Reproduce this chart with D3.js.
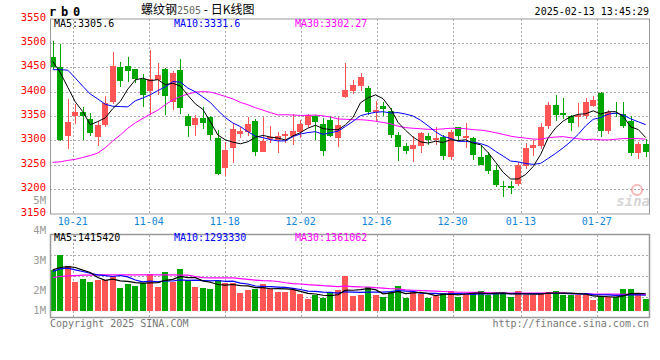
<!DOCTYPE html>
<html>
<head>
<meta charset="utf-8">
<script src="https://cdn.jsdelivr.net/npm/d3@7"></script>
<style>
body { margin: 0; background: #fff; }
svg { display: block; }
text { font-family: "DejaVu Sans Mono", monospace; }
</style>
</head>
<body>
<div id="chart"></div>
<script>
// trading days shown (rb2505 daily)
var dates = ["10-16","10-17","10-18","10-21","10-22","10-23","10-24","10-25","10-28","10-29","10-30","10-31",
  "11-01","11-04","11-05","11-06","11-07","11-08","11-11","11-12","11-13","11-14","11-15","11-18","11-19","11-20","11-21","11-22","11-25","11-26","11-27","11-28","11-29",
  "12-02","12-03","12-04","12-05","12-06","12-09","12-10","12-11","12-12","12-13","12-16","12-17","12-18","12-19","12-20","12-23","12-24","12-25","12-26","12-27","12-30","12-31",
  "01-02","01-03","01-06","01-07","01-08","01-09","01-10","01-13","01-14","01-15","01-16","01-17","01-20","01-21","01-22","01-23","01-24","01-27",
  "02-05","02-06","02-07","02-10","02-11","02-12","02-13"];

var openP = [3471,3450,3310,3349,3358,3344,3306,3332,3379,3450, 3453,3446,3426,3401,3424,3446,3379,3444,3350,3332,
  3345,3347,3304,3243,3285,3314,3317,3340,3277,3302, 3301,3310,3308,3317,3332,3351,3334,3342,3304,3390,
  3402,3411,3407,3359,3370,3360,3312,3289,3283,3289, 3309,3300,3307,3265,3327,3304,3305,3265,3270,3240,
  3207,3207,3211,3248,3285,3289,3330,3373,3357,3350, 3347,3351,3371,3398,3320,3357,3355,3340,3275,3293];
var highP = [3503,3497,3385,3375,3368,3357,3340,3391,3481,3460, 3471,3447,3436,3485,3459,3448,3442,3467,3355,3352,
  3368,3350,3321,3297,3335,3327,3347,3343,3347,3330, 3317,3320,3354,3342,3355,3353,3345,3347,3347,3459,
  3424,3439,3411,3381,3379,3366,3318,3295,3309,3318, 3315,3328,3311,3321,3328,3335,3306,3291,3277,3250,
  3216,3216,3255,3294,3301,3335,3379,3393,3386,3353, 3376,3386,3391,3400,3362,3379,3379,3349,3297,3302];
var lowP = [3447,3298,3283,3334,3300,3308,3289,3328,3375,3410, 3420,3417,3369,3352,3393,3353,3362,3355,3306,3308,
  3323,3301,3229,3226,3253,3304,3309,3268,3277,3294, 3274,3294,3291,3304,3328,3300,3267,3306,3287,3386,
  3396,3402,3352,3340,3350,3304,3257,3272,3255,3275, 3291,3291,3260,3260,3301,3284,3259,3250,3231,3204,
  3183,3190,3207,3241,3268,3282,3324,3340,3343,3320, 3328,3343,3368,3306,3313,3347,3325,3268,3261,3265];
var closeP = [3450,3300,3338,3358,3349,3316,3332,3376,3453,3422, 3443,3426,3394,3426,3434,3392,3439,3367,3330,3346,
  3336,3312,3231,3280,3323,3319,3333,3277,3299,3306, 3309,3313,3319,3333,3352,3338,3279,3309,3331,3403,
  3413,3430,3359,3362,3364,3312,3287,3279,3291,3316, 3300,3305,3267,3318,3308,3308,3271,3250,3238,3209,
  3204,3203,3250,3284,3291,3328,3373,3353,3353,3336, 3352,3379,3383,3320,3359,3354,3330,3275,3293,3277];

// volume in lots
var volume = [3390000,4630000,3720000,2420000,2670000,2420000,2560000,2560000,2920000,1930000,
  2230000,2070000,2290000,3060000,2010000,3220000,2420000,3500000,2560000,2010000,
  1930000,1850000,2560000,2290000,2290000,1490000,1740000,1850000,2230000,1850000,
  1570000,1570000,1710000,1400000,1020000,1290000,1070000,1570000,1740000,2890000,
  1270000,1320000,1980000,1320000,1160000,1570000,2070000,1070000,1570000,1380000,
  1070000,1270000,1520000,1650000,1160000,1400000,1570000,1650000,1320000,1460000,
  1460000,1160000,1650000,1320000,1320000,1490000,1570000,1650000,1320000,1320000,
  1320000,1320000,910000,1160000,1160000,1160000,1820000,1820000,1320000,990000];

// moving-average values before the window has enough days
var ma5Head = [3462,3439,3409,3379];
var ma10Head = [3445,3445,3444,3428,3411,3395,3385,3374,3370];
var ma30Head = [3255,3256,3259,3261,3265,3269,3274,3285,3299,3311,3325,3336,3345,3354,3362,
  3373,3383,3390,3395,3399,3400,3399,3395,3390,3385,3378,3373,3367,3362];
var vma5Head = [3390000,3580000,3660000,3580000];
var vma10Head = [3250000,3470000,3530000,3390000,3250000,3110000,2980000,2920000,2840000];
var vma30Head = [2750000,2840000,2890000,2920000,2950000,2960000,2970000,2980000,2980000,2980000,
  2980000,2980000,2980000,2970000,2970000,2970000,2970000,2960000,2950000,2840000,
  2750000,2730000,2730000,2730000,2720000,2660000,2600000,2550000,2500000];

var tickDates = ["10-21","11-04","11-18","12-02","12-16","12-30","01-13","01-27"];
var priceTicks = [3150,3200,3250,3300,3350,3400,3450,3500,3550];
var volLabels = [5,4,3,2,1];

var upColor = "#ff5555", downColor = "#00a600";
var left = 50, right = 649;
var mainTop = 18.5, mainBottom = 213.5;
var volTop = 234.5, volBottom = 317.5;

function movingAvg(vals, n, head) {
  return vals.map(function (v, i) {
    if (i < n - 1) return head[i];
    return d3.mean(vals.slice(i - n + 1, i + 1));
  });
}

var svg = d3.select("#chart").append("svg")
  .attr("width", 660)
  .attr("height", 360);

var x = d3.scaleBand().domain(dates).range([49, 649.5]).paddingInner(0.2).paddingOuter(0.1);
var xg = d3.scalePoint().domain(dates).range([50, 650]);
var y = d3.scaleLinear().domain([3150, 3550]).range([mainBottom, mainTop]);
var yv = d3.scaleLinear().domain([0, 6300000]).range([311, volTop]);
var yLab = d3.scaleLinear().domain([1, 5]).range([320, 200]);

function cx(d) { return Math.round(x(d) + x.bandwidth() / 2) + 0.5; }

// ---- grids
var grid = svg.append("g").attr("stroke", "#aaa").attr("stroke-dasharray", "2,2").attr("shape-rendering", "crispEdges");
grid.selectAll("line.h")
  .data(priceTicks.filter(function (v) { return v > 3150 && v < 3550; }))
  .enter().append("line")
  .attr("x1", left).attr("x2", right)
  .attr("y1", function (d) { return Math.round(y(d)) + 0.5; })
  .attr("y2", function (d) { return Math.round(y(d)) + 0.5; });
grid.selectAll("line.vm")
  .data(tickDates).enter().append("line")
  .attr("x1", function (d) { return Math.round(xg(d)) + 0.5; })
  .attr("x2", function (d) { return Math.round(xg(d)) + 0.5; })
  .attr("y1", mainTop).attr("y2", mainBottom);
grid.selectAll("line.vv")
  .data(tickDates).enter().append("line")
  .attr("x1", function (d) { return Math.round(xg(d)) + 0.5; })
  .attr("x2", function (d) { return Math.round(xg(d)) + 0.5; })
  .attr("y1", volTop).attr("y2", volBottom);
grid.selectAll("line.hv")
  .data(d3.range(1, 4)).enter().append("line")
  .attr("x1", left).attr("x2", right)
  .attr("y1", function (k) { return Math.round(volTop + k * (volBottom - volTop) / 4) + 0.5; })
  .attr("y2", function (k) { return Math.round(volTop + k * (volBottom - volTop) / 4) + 0.5; });

// ---- candles
var candles = svg.append("g").attr("shape-rendering", "crispEdges");
candles.selectAll("line")
  .data(dates).enter().append("line")
  .attr("x1", cx).attr("x2", cx)
  .attr("y1", function (d, i) { return y(highP[i]); })
  .attr("y2", function (d, i) { return y(lowP[i]); })
  .attr("stroke", function (d, i) { return closeP[i] >= openP[i] ? upColor : downColor; });
candles.selectAll("rect")
  .data(dates).enter().append("rect")
  .attr("x", function (d) { return cx(d) - 3.5; })
  .attr("width", 6)
  .attr("y", function (d, i) { return y(Math.max(openP[i], closeP[i])); })
  .attr("height", function (d, i) { return Math.max(1, Math.abs(y(openP[i]) - y(closeP[i]))); })
  .attr("fill", function (d, i) { return closeP[i] >= openP[i] ? upColor : downColor; });

// ---- price MAs
var maLine = d3.line()
  .x(function (d, i) { return x(dates[i]) + x.bandwidth() / 2; })
  .y(function (d) { return y(d); });
[[movingAvg(closeP, 30, ma30Head), "#ff00ff"], [movingAvg(closeP, 10, ma10Head), "#0000ff"], [movingAvg(closeP, 5, ma5Head), "#000"]]
  .forEach(function (m) {
    svg.append("path").datum(m[0])
      .attr("d", maLine)
      .attr("fill", "none")
      .attr("stroke", m[1])
      .attr("stroke-width", 1);
  });

// ---- volume bars
svg.append("g").attr("shape-rendering", "crispEdges")
  .selectAll("rect")
  .data(dates).enter().append("rect")
  .attr("x", function (d) { return cx(d) - 3.5; })
  .attr("width", 6)
  .attr("y", function (d, i) { return yv(volume[i]); })
  .attr("height", function (d, i) { return yv(0) - yv(volume[i]); })
  .attr("fill", function (d, i) { return closeP[i] >= openP[i] ? upColor : downColor; });

var vLine = d3.line()
  .x(function (d, i) { return x(dates[i]) + x.bandwidth() / 2; })
  .y(function (d) { return yv(d); });
[[movingAvg(volume, 30, vma30Head), "#ff00ff"], [movingAvg(volume, 10, vma10Head), "#0000ff"], [movingAvg(volume, 5, vma5Head), "#000"]]
  .forEach(function (m) {
    svg.append("path").datum(m[0])
      .attr("d", vLine)
      .attr("fill", "none")
      .attr("stroke", m[1])
      .attr("stroke-width", 1.2);
  });

// ---- frames
svg.append("rect")
  .attr("x", left + 0.5).attr("y", mainTop + 0.5)
  .attr("width", right - left).attr("height", mainBottom - mainTop)
  .attr("fill", "none").attr("stroke", "#999");
svg.append("rect")
  .attr("x", left + 0.5).attr("y", volTop)
  .attr("width", right - left).attr("height", volBottom - volTop)
  .attr("fill", "none").attr("stroke", "#999").attr("stroke-width", 1.5);

// ---- axis labels
svg.selectAll("text.py")
  .data(priceTicks).enter().append("text")
  .attr("x", 46).attr("y", function (d) { return y(d) + 2; })
  .attr("text-anchor", "end")
  .attr("font-size", 10.5)
  .attr("fill", "#ff0000")
  .text(function (d) { return d; });

svg.selectAll("text.vy")
  .data(volLabels).enter().append("text")
  .attr("x", 46).attr("y", function (d) { return Math.min(yLab(d), 310) + 4; })
  .attr("text-anchor", "end")
  .attr("font-size", 10.5)
  .attr("fill", "#999")
  .text(function (d) { return d + "M"; });

svg.selectAll("text.xd")
  .data(tickDates).enter().append("text")
  .attr("x", function (d) { return xg(d); })
  .attr("y", 225)
  .attr("text-anchor", "middle")
  .attr("font-size", 10)
  .attr("fill", "#0f85d6")
  .text(function (d) { return d; });

// ---- header texts
svg.append("text")
  .attr("x", "49 61 73").attr("y", 16)
  .attr("font-family", "DejaVu Serif")
  .attr("font-weight", "bold")
  .attr("font-size", 12)
  .text("rb0");

var title = svg.append("text").attr("x", 141).attr("y", 14).attr("font-size", 12);
title.append("tspan").attr("font-family", "Noto Sans CJK SC").text("螺纹钢");
title.append("tspan").attr("fill", "#666").attr("font-size", 10).text("2505");
title.append("tspan").attr("font-family", "Noto Sans CJK SC").text(" - 日K线图");

svg.append("text")
  .attr("x", 649).attr("y", 15)
  .attr("text-anchor", "end")
  .attr("font-size", 10)
  .text("2025-02-13 13:45:29");

var maLabels = [
  ["MA5:3305.6", 54, "#000"], ["MA10:3331.6", 174, "#0000ff"], ["MA30:3302.27", 295, "#ff00ff"]
];
maLabels.forEach(function (m) {
  svg.append("text").attr("x", m[1]).attr("y", 27).attr("font-size", 10).attr("fill", m[2]).text(m[0]);
});
var vmaLabels = [
  ["MA5:1415420", 54, "#000"], ["MA10:1293330", 174, "#0000ff"], ["MA30:1361062", 295, "#ff00ff"]
];
vmaLabels.forEach(function (m) {
  svg.append("text").attr("x", m[1]).attr("y", 241).attr("font-size", 10).attr("fill", m[2]).text(m[0]);
});

svg.append("text").attr("x", 50).attr("y", 327).attr("font-size", 10).attr("fill", "#777")
  .text("Copyright 2025 SINA.COM");
svg.append("text").attr("x", 649).attr("y", 327).attr("text-anchor", "end").attr("font-size", 10).attr("fill", "#777")
  .text("http://finance.sina.com.cn");

// sina watermark
var logo = svg.append("g").attr("opacity", 0.35);
logo.append("circle").attr("cx", 637).attr("cy", 190).attr("r", 5).attr("fill", "none").attr("stroke", "#e33").attr("stroke-width", 2);
logo.append("text").attr("x", 650).attr("y", 206).attr("text-anchor", "end")
  .attr("font-family", "DejaVu Sans").attr("font-style", "italic").attr("font-weight", "bold")
  .attr("font-size", 14).attr("fill", "#888").text("sina");
</script>
</body>
</html>
